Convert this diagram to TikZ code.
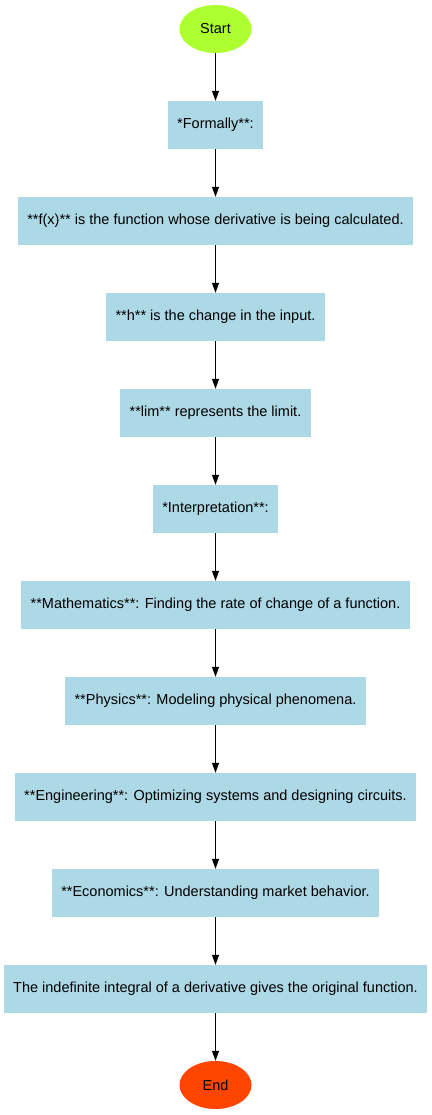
\documentclass[tikz,border=0pt]{standalone}
\usepackage{fontspec}
\setmainfont{Liberation Sans}
\usetikzlibrary{positioning,arrows.meta,shapes.geometric}
\definecolor{boxblue}{HTML}{ADD8E6}
\definecolor{startgreen}{HTML}{ADFF2F}
\definecolor{endred}{HTML}{FF4500}
\begin{document}
\begin{tikzpicture}[
			node distance=47.6pt,
			every node/.style = {font=\fontsize{14.5pt}{16pt}\selectfont},
			main/.style = {fill=boxblue, rectangle, minimum height=48pt, inner xsep=9.5pt, inner ysep=0pt},
			term/.style = {ellipse, minimum width=72pt, minimum height=48pt, inner sep=0pt},
			flow/.style = {line width=1pt, -{Triangle[length=10pt,width=7pt]}}
		]
		\useasboundingbox (0,0) rectangle (431pt,-1115pt);
		\node[term, fill=startgreen] (start) at (215.5pt,-29pt) {Start};
		% Definition.
		\node[main, below=of start] (formally) {*Formally**:};
		\node[main, below=of formally] (fx) {**f(x)** is the function whose derivative is being calculated.};
		\node[main, below=of fx] (h) {**h** is the change in the input.};
		\node[main, below=of h] (lim) {**lim** represents the limit.};
		% Interpretation.
		\node[main, below=of lim] (interp) {*Interpretation**:};
		\node[main, below=of interp] (math) {**Mathematics**: Finding the rate of change of a function.};
		\node[main, below=of math] (phys) {**Physics**: Modeling physical phenomena.};
		\node[main, below=of phys] (eng) {**Engineering**: Optimizing systems and designing circuits.};
		\node[main, below=of eng] (econ) {**Economics**: Understanding market behavior.};
		\node[main, below=of econ] (integral) {The indefinite integral of a derivative gives the original function.};
		\node[term, fill=endred, below=of integral] (stop) {End};
		
		\draw[flow] (start) to (formally);
		\draw[flow] (formally) to (fx);
		\draw[flow] (fx) to (h);
		\draw[flow] (h) to (lim);
		\draw[flow] (lim) to (interp);
		\draw[flow] (interp) to (math);
		\draw[flow] (math) to (phys);
		\draw[flow] (phys) to (eng);
		\draw[flow] (eng) to (econ);
		\draw[flow] (econ) to (integral);
		\draw[flow] (integral) to (stop);
	\end{tikzpicture}
\end{document}
